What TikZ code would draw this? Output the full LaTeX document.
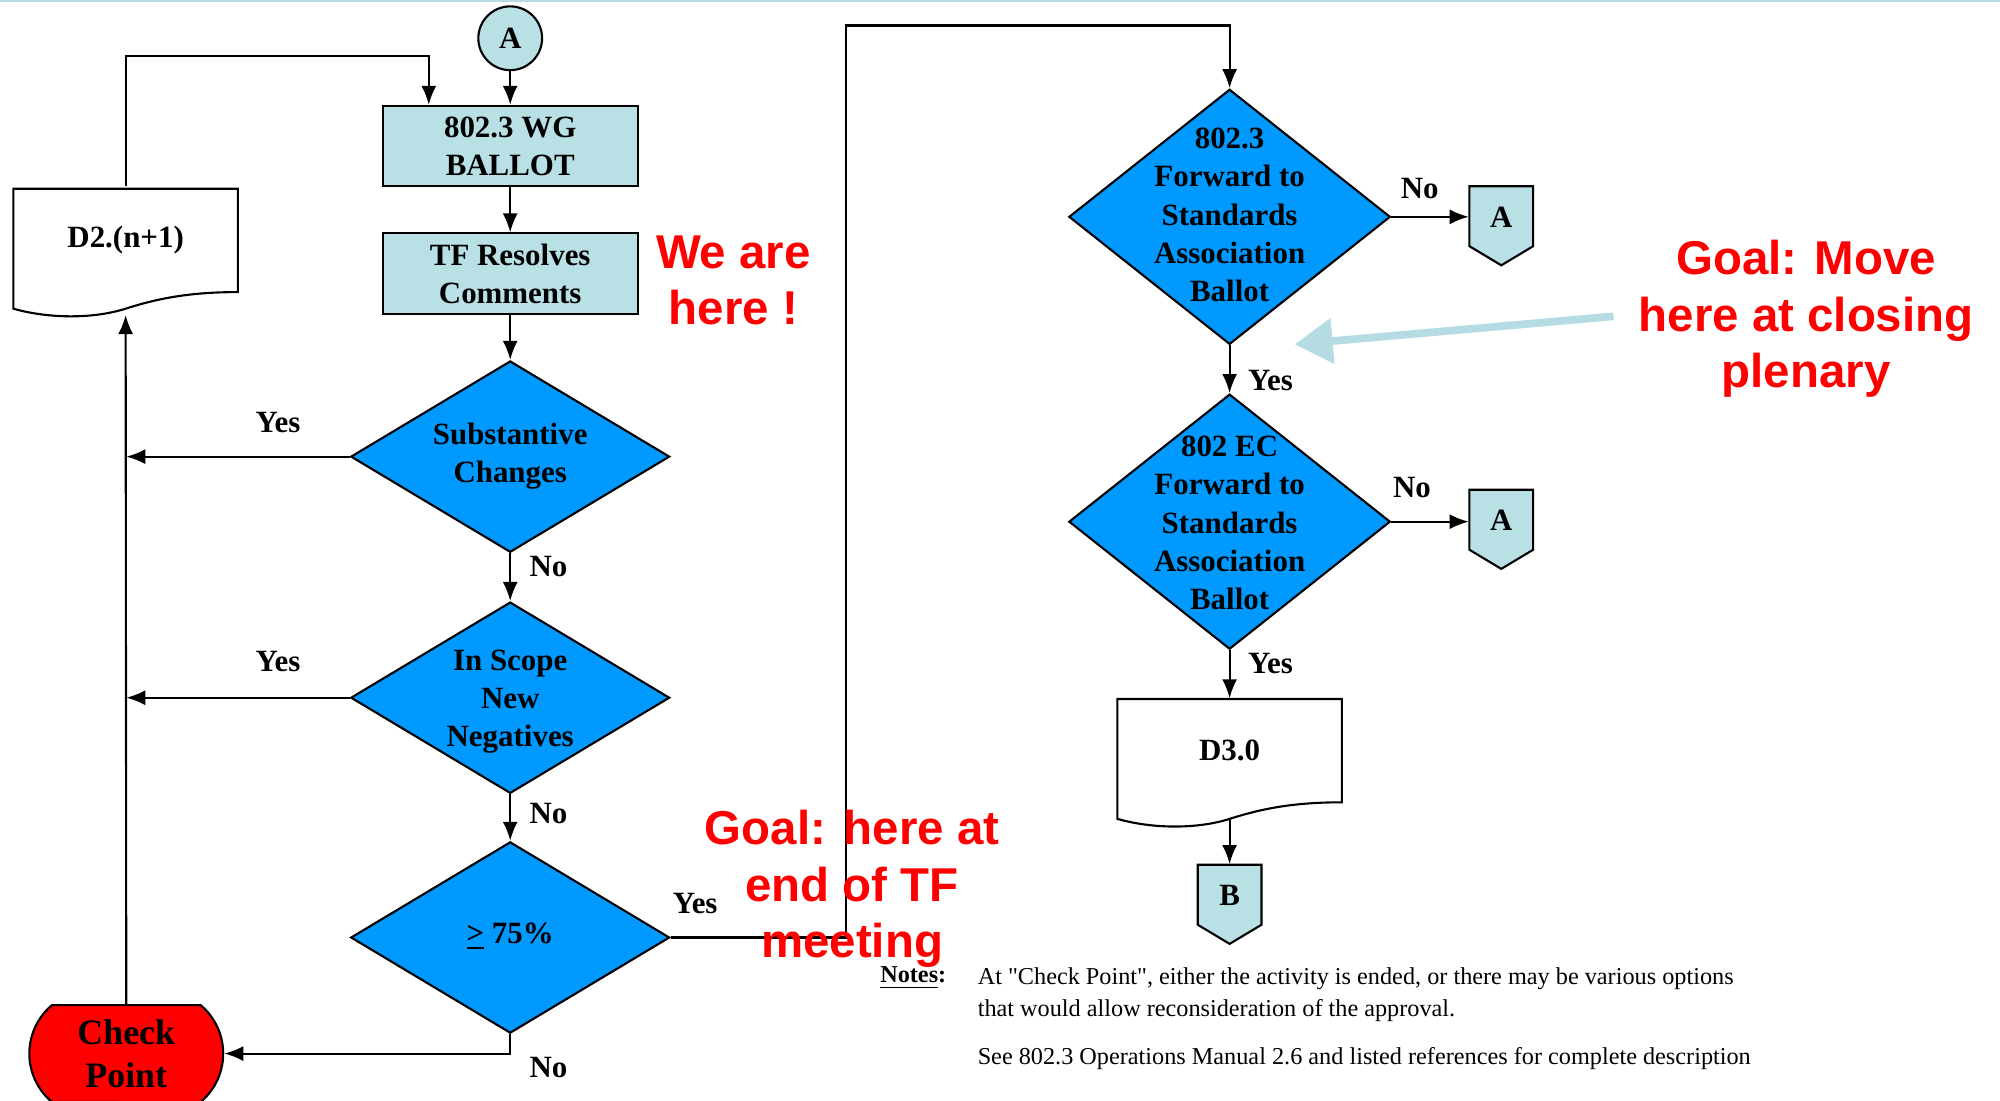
\documentclass[tikz,border=0pt]{standalone}
\usepackage{fontspec}
\setmainfont{Liberation Serif}
\newfontfamily\goalfont{Liberation Sans}
\newfontfamily\notefont[Ligatures=TeXOff]{Liberation Serif}
\usetikzlibrary{shapes.geometric,shapes.misc,arrows.meta,calc,backgrounds}
\definecolor{boxblue}{RGB}{185,224,228}
\definecolor{decblue}{RGB}{0,153,255}
\definecolor{hintblue}{RGB}{180,220,226}
\newcommand{\pxu}{0.012755cm}
% document and off-page shapes, drawn round a node
\newcommand{\docshape}[1]{\draw[fill=white,line width=0.6pt,shift={(#1)}] (-88,-40) -- (88,-40) -- (88,41)
  .. controls (50,41) and (25,46) .. (0,54) .. controls (-25,62) and (-60,62) .. (-88,54) -- cycle;}
\newcommand{\pageshape}[1]{\draw[fill=boxblue,line width=0.6pt,shift={(#1)}] (-25,-24) -- (25,-24) -- (25,23) -- (0,38) -- (-25,23) -- cycle;}
\begin{document}
\begin{tikzpicture}[x=\pxu,y=-\pxu,
	txt/.style={font=\bfseries\fontsize{8.8}{10.9}\selectfont},
	box/.style={txt,draw,line width=0.6pt,fill=boxblue,minimum width=200*\pxu,minimum height=63*\pxu,align=center,inner sep=0pt},
	conn/.style={txt,circle,draw,line width=0.6pt,fill=boxblue,minimum size=50*\pxu,inner sep=0pt},
	dec/.style={diamond,draw,line width=0.6pt,fill=decblue,inner sep=0pt,minimum width=250*\pxu,minimum height=150*\pxu},
	bigdec/.style={dec,minimum width=252*\pxu,minimum height=200*\pxu},
	dtext/.style={txt,align=center,inner sep=0pt},
	doc/.style={txt,minimum width=176*\pxu,minimum height=80*\pxu,inner sep=0pt},
	page/.style={txt,minimum width=50*\pxu,minimum height=48*\pxu,inner sep=0pt},
	chkpt/.style={rounded rectangle,rounded rectangle arc length=100,draw,line width=0.6pt,fill=red,
		minimum width=152*\pxu,minimum height=76*\pxu,inner sep=0pt,align=center,font=\bfseries\fontsize{10.2}{12.3}\selectfont},
	lab/.style={txt},
	arr/.style={-{Latex[length=1.9mm,width=1.5mm]},line width=0.6pt},
	hintarr/.style={-{Triangle[length=3.8mm,width=4.4mm]},hintblue,line width=2.2pt},
	goal/.style={text=red,align=center,font=\goalfont\bfseries\fontsize{13.5}{16}\selectfont},
	note/.style={anchor=west,inner sep=0pt,font=\notefont\fontsize{6.9}{9}\selectfont}]
	\useasboundingbox (0,0) rectangle (1568,863);
	\draw[hintblue,line width=0.8pt] (0,0.5) -- (1568,0.5);
	% left column
	\node[conn] (a0) at (400,30) {A};
	\node[box] (wg) at (400,114.5) {802.3 WG\\BALLOT};
	\node[box] (tf) at (400,214.5) {TF Resolves\\Comments};
	\node[dec] (sub) at (400,358) {};
	\node[dtext] (subt) at (400,357.5) {Substantive\\Changes};
	\node[dec] (scope) at (400,547) {};
	\node[dtext] (scopet) at (400,550) {In Scope\\New\\Negatives};
	\node[dec] (pct) at (400,735) {};
	\node[dtext] (pctt) at (400,734) {\underline{>} 75\%};
	\node[chkpt] (chk) at (99,826) {Check\\Point};
	\node[doc] (d2) at (98.5,188) {D2.(n+1)};
	% right column
	\node[bigdec] (fw1) at (964,170) {};
	\node[dtext] (fw1t) at (964,168.5) {802.3\\Forward to\\Standards\\Association\\Ballot};
	\node[bigdec] (fw2) at (964,409) {};
	\node[dtext] (fw2t) at (964,410) {802 EC\\Forward to\\Standards\\Association\\Ballot};
	\node[page] (a1) at (1177,170) {A};
	\node[page] (a2) at (1177,408) {A};
	\node[doc] (d3) at (964,588) {D3.0};
	\node[page] (b) at (964,702) {B};
	\begin{pgfonlayer}{background}
		\docshape{d2}
		\docshape{d3}
		\pageshape{a1}
		\pageshape{a2}
		\pageshape{b}
	\end{pgfonlayer}
	% connectors
	\coordinate (d2low) at ($(d2)+(0,59)$);
	\coordinate (d2top) at ($(d2)+(0,-42)$);
	\coordinate (d3low) at ($(d3)+(0,53)$);
	\coordinate (turn) at (663,20);
	\draw[arr] (a0) -- (wg);
	\draw[arr] (wg) -- (tf);
	\draw[arr] (tf) -- (sub);
	\draw[arr] (sub) -- (scope);
	\draw[arr] (scope) -- (pct);
	\draw[arr] (sub.west) -- (sub.west -| chk.north);
	\draw[arr] (scope.west) -- (scope.west -| chk.north);
	\draw[arr] (pct.south) |- (chk.east);
	\draw[arr] (chk.north) -- (d2low);
	\draw[arr] (d2top) |- ($(wg.north west)+(37,-38)$) -- ($(wg.north west)+(37,0)$);
	\draw[arr] (pct.east) -| (turn) -| (fw1.north);
	\draw[arr] (fw1.east) -- (a1.west);
	\draw[arr] (fw1) -- (fw2);
	\draw[arr] (fw2.east) -- (fw2.east -| a2.west);
	\draw[arr] (fw2) -- (d3.north);
	\draw[arr] (d3low) -- (b.north);
	% branch labels
	\node[lab] (ysub) at (218,331) {Yes};
	\node[lab] (nsub) at (430,444) {No};
	\node[lab] (yscope) at (218,519) {Yes};
	\node[lab] (nscope) at (430,638) {No};
	\node[lab] (ypct) at (545,708) {Yes};
	\node[lab] (npct) at (430,837) {No};
	\node[lab] (nfw1) at (1113,148) {No};
	\node[lab] (yfw1) at (996,298) {Yes};
	\node[lab] (nfw2) at (1107,382) {No};
	\node[lab] (yfw2) at (996,520) {Yes};
	% remarks
	\coordinate (hint) at (1265,248);
	\coordinate (hinttip) at (1015,270);
	\draw[hintarr] (hint) -- (hinttip);
	\node[goal] (here) at (575,220) {We are\\here !};
	\node[goal] (goaltf) at (668,697) {Goal: here at\\end of TF\\meeting};
	\node[goal] (goalpl) at (1416,250) {Goal: Move\\here at closing\\plenary};
	\node[note,anchor=center,font=\bfseries\fontsize{6.9}{9}\selectfont] (notes) at (716,767) {\underline{Notes}:};
	\node[note] (note1) at (766,767) {At "Check Point", either the activity is ended, or there may be various options};
	\node[note] (note2) at (766,792) {that would allow reconsideration of the approval.};
	\node[note] (note3) at (766,830) {See 802.3 Operations Manual 2.6 and listed references for complete description};
\end{tikzpicture}
\end{document}
